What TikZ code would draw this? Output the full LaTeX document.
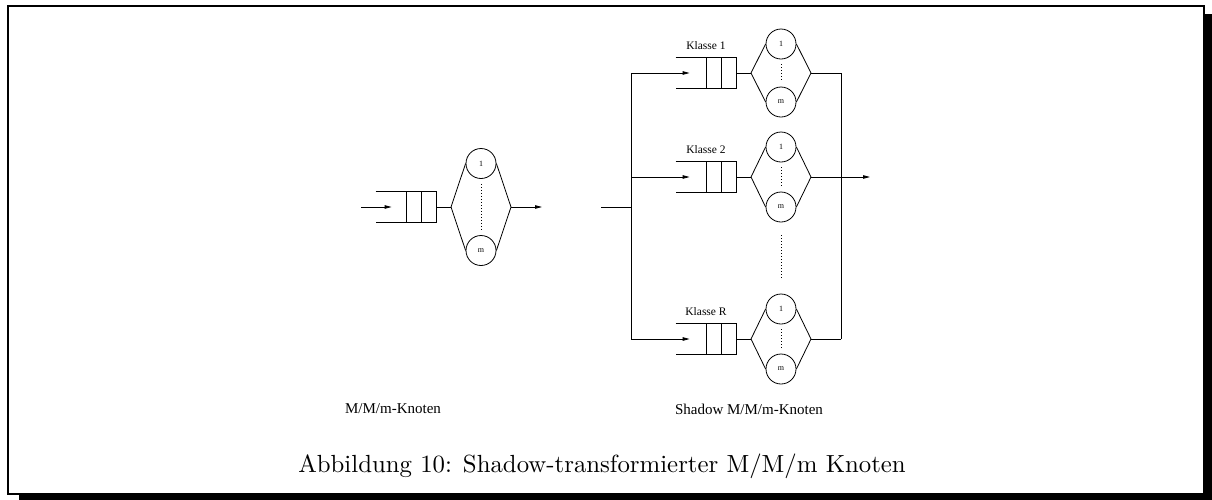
\documentclass[tikz,border=0pt]{standalone}
\usepackage{fontspec}
\newfontfamily\timesfont{Liberation Serif}
\usetikzlibrary{arrows.meta,positioning}

\begin{document}
\begin{tikzpicture}[
  x=1pt,y=-1pt,
  line width=0.8pt,
  queue/.style={minimum width=60pt,minimum height=30pt,inner sep=0pt},
  server/.style={draw,circle,minimum size=30pt,inner sep=0pt,font=\timesfont\fontsize{8}{8}\selectfont},
  klasse/.style={font=\timesfont\fontsize{11.5}{12}\selectfont,inner sep=1pt},
  unter/.style={font=\timesfont\fontsize{15}{16}\selectfont,inner sep=1pt},
  dotline/.style={dash pattern=on 1pt off 2pt},
  ar/.style={-{Triangle[length=7pt,width=3.5pt]}}]

\useasboundingbox (0,0) rectangle (1212,499);

% frame with shadow
\draw[line width=2pt] (8,6) rectangle (1204,494);
\fill (1205,14) rectangle (1213,500);
\fill (19,494) rectangle (1213,500);

% stations: name / queue end x / row y / server offset
\foreach \n/\x/\y/\d in {k0/436/207/43.5,k1/736/73/29,k2/736/177/30,kR/736/339/30}{
  \begin{scope}[shift={(\x,\y)}]
    \node[queue] (\n-q) at (-30,0) {};
    \coordinate (\n-l) at (15,0);
    \coordinate (\n-r) at (75,0);
    \node[server] (\n-a) at (45,-\d) {1};
    \node[server] (\n-b) at (45,\d) {m};
  \end{scope}
  \draw (\n-q.north west) -- (\n-q.north east) -- (\n-q.south east) -- (\n-q.south west);
  \draw (\n-q.north) -- (\n-q.south) ([xshift=15pt]\n-q.north) -- ([xshift=15pt]\n-q.south);
  \draw (\n-q.east) -- (\n-l);
  \draw (\n-a.west) -- (\n-l) -- (\n-b.west) (\n-a.east) -- (\n-r) -- (\n-b.east);
  \draw[dotline,shorten <=5pt,shorten >=6pt] (\n-a) -- (\n-b);
}

% single node
\coordinate (src0) at (361,207);
\coordinate (snk0) at (542,207);
\draw[ar] (src0) -- ([xshift=16pt]k0-q.west);
\draw[ar] (k0-r) -- (snk0);

% shadow node
\coordinate (src) at (601,207);
\coordinate (fork) at (631,207);
\coordinate (join) at (841,177);
\coordinate (snk) at (870,177);
\draw (src) -- (fork);
\draw (fork |- k1-q) -- (fork |- kR-q);
\foreach \n in {k1,k2,kR} \draw[ar] (fork |- \n-q) -- ([xshift=14pt]\n-q.west);
\draw (join |- k1-r) -- (join |- kR-r);
\draw (k1-r) -- (join |- k1-r);
\draw (kR-r) -- (join |- kR-r);
\draw[ar] (k2-r) -- (snk);
\draw[dotline,shorten <=13pt,shorten >=16pt] (k2-b) -- (kR-a);

\node[klasse,above=7pt of k1-q] (lab1) {Klasse 1};
\node[klasse,above=7pt of k2-q] (lab2) {Klasse 2};
\node[klasse,above=7pt of kR-q] (labR) {Klasse R};

\node[unter] (txt0) at (393,409) {M/M/m-Knoten};
\node[unter] (txt1) at (749,409) {Shadow M/M/m-Knoten};
\node (cap) at (602,466) {\scalebox{2.48}{Abbildung 10: Shadow-transformierter M/M/m Knoten}};
\end{tikzpicture}
\end{document}
